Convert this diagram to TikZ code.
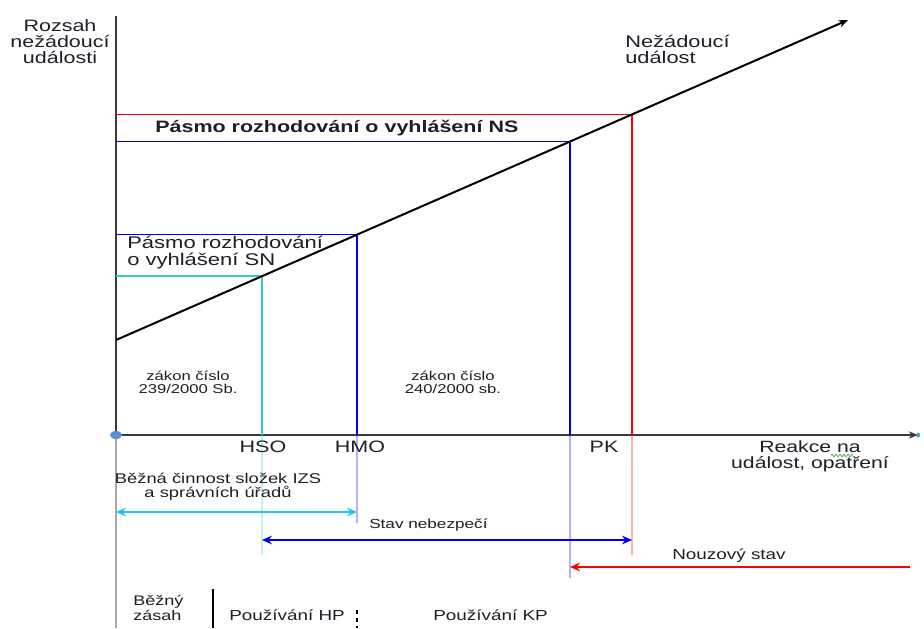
\documentclass[tikz,border=0pt]{standalone}
\usepackage{fontspec}
\setmainfont{Liberation Sans}[FakeStretch=1.3]
\usetikzlibrary{arrows.meta,calc,decorations.pathmorphing}

\definecolor{txt}{HTML}{1E1E28}
\definecolor{axisgray}{HTML}{3A3A3A}
\definecolor{lightaxis}{HTML}{A8A8A8}
\definecolor{nsred}{HTML}{FF0000}
\definecolor{nsblue}{HTML}{0000F0}
\definecolor{sncyan}{HTML}{3CC8C8}
\definecolor{arrcyan}{HTML}{1EC8F5}
\definecolor{dotblue}{HTML}{5B8ED8}
\definecolor{spellgreen}{HTML}{3CA03C}

\tikzset{
  lbl/.style={text=txt, inner sep=0pt, font=\fontsize{12.4}{12}\selectfont},
  smalllbl/.style={text=txt, inner sep=0pt, font=\fontsize{9.6}{9.75}\selectfont},
  midlbl/.style={text=txt, inner sep=0pt, font=\fontsize{10.6}{10.5}\selectfont},
  axisline/.style={draw=axisgray, line width=1.5pt},
  bandline/.style={line width=1.05pt},
  below axis/.style={opacity=0.45},
  tiphead/.style={-{Stealth[length=7pt,width=5.5pt]}},
  spanarrow/.style={line width=2.2pt, {Stealth[length=7.5pt,width=6.5pt]}-{Stealth[length=7.5pt,width=6.5pt]}},
  onearrow/.style={line width=2.2pt, {Stealth[length=7.5pt,width=6.5pt]}-},
}

\begin{document}
\begin{tikzpicture}[x=0.75pt,y=-0.75pt]
\useasboundingbox (0,0) rectangle (924,628);

% axes
\coordinate (O) at (116,435);
\coordinate (Ytop) at (116,16);
\coordinate (Ybot) at (116,628);
\coordinate (Xend) at (918,435);
\draw[draw=lightaxis, line width=1.5pt] (O) -- (Ybot);
\draw[axisline] (Ytop) -- (O);
\draw[axisline, tiphead] (O) -- (Xend);

% diagonal: extent of the undesired event
\coordinate (D0) at (116,340);
\coordinate (D1) at (848,20);
\coordinate (R)  at ($(D0)!0.7049!(D1)$);  % red corner, x = 632
\coordinate (Bn) at ($(D0)!0.6202!(D1)$);  % blue NS corner, x = 570
\coordinate (Bs) at ($(D0)!0.3292!(D1)$);  % blue SN corner, x = 357
\coordinate (C)  at ($(D0)!0.1995!(D1)$);  % cyan corner, x = 262

% lower ends of the vertical guides
\coordinate (Rend)  at (632,555);
\coordinate (Bnend) at (570,578);
\coordinate (Bsend) at (357,523);
\coordinate (Cend)  at (262,555);

% decision bands
\draw[bandline, nsred]  (O |- R)  -- (R)  -- (R |- O);
\draw[bandline, nsred, below axis] (R |- O) -- (Rend);
\draw[bandline, nsblue] (O |- Bn) -- (Bn) -- (Bn |- O);
\draw[bandline, nsblue, below axis] (Bn |- O) -- (Bnend);
\draw[bandline, nsblue] (O |- Bs) -- (Bs) -- (Bs |- O);
\draw[bandline, nsblue, below axis] (Bs |- O) -- (Bsend);
\draw[bandline, sncyan] (O |- C)  -- (C)  -- (C |- O);
\draw[bandline, sncyan, below axis] (C |- O) -- (Cend);

\draw[line width=1.5pt, black, tiphead] (D0) -- (D1);

% origin marker
\fill[dotblue] (O) ellipse [x radius=6, y radius=4];
\fill[dotblue] (Xend) ellipse [x radius=2, y radius=2.5];

% axis and band labels (multi-line nodes sit on their last baseline)
\node[lbl, anchor=base, align=center, font=\fontsize{12.4}{12}\selectfont] (ylab) at (60,63)
  {Rozsah\\ nežádoucí\\ události};
\node[lbl, anchor=base west, align=left, font=\fontsize{12.6}{12}\selectfont] (event) at (625,63)
  {Nežádoucí\\ událost};
\node[lbl, anchor=base west, font=\bfseries\fontsize{12.4}{12}\selectfont] (nsband) at (155,132)
  {Pásmo rozhodování o vyhlášení NS};
\node[lbl, anchor=base west, align=left, font=\fontsize{12.7}{12.6}\selectfont] (snband) at (127,265)
  {Pásmo rozhodování\\ o vyhlášení SN};
\node[smalllbl, anchor=base, align=center] (law239) at (188,393)
  {zákon číslo\\ 239/2000 Sb.};
\node[smalllbl, anchor=base, align=center] (law240) at (453,393)
  {zákon číslo\\ 240/2000 sb.};

% labels on the reaction axis
\node[lbl, anchor=base] (hso) at (263,452) {HSO};
\node[lbl, anchor=base] (hmo) at (360,452) {HMO};
\node[lbl, anchor=base] (pk)  at (604,452) {PK};
\node[lbl, anchor=base, align=center, font=\fontsize{12.2}{12}\selectfont] (xlab) at (810,468)
  {Reakce na\\ událost, opatření};
\draw[spellgreen, line width=0.5pt, decorate,
      decoration={zigzag, segment length=3, amplitude=1}] (831,455.5) -- (853,455.5);

% state spans
\coordinate (cyL) at (116,512);
\coordinate (cyR) at (357,512);
\coordinate (blL) at (262,540);
\coordinate (blR) at (632,540);
\coordinate (rdL) at (570,567);
\coordinate (rdR) at (910,567);
\node[midlbl, anchor=base, align=center] (routine) at (218,497)
  {Běžná činnost složek IZS\\ a správních úřadů};
\draw[spanarrow, arrcyan] (cyL) -- (cyR);
\node[midlbl, anchor=base west, font=\fontsize{9.9}{10}\selectfont] (danger) at (369,528) {Stav nebezpečí};
\draw[spanarrow, nsblue] (blL) -- (blR);
\node[midlbl, anchor=base west, font=\fontsize{10.9}{11}\selectfont] (emerg) at (672,559) {Nouzový stav};
\draw[onearrow, nsred] (rdL) -- (rdR);

% forces in use
\coordinate (sepT) at (213,589);
\coordinate (sepB) at (213,628);
\coordinate (dshT) at (357,610);
\coordinate (dshB) at (357,628);
\node[midlbl, anchor=base west, align=left, font=\fontsize{10.4}{11.25}\selectfont] (common) at (133,620)
  {Běžný\\ zásah};
\draw[black, line width=1.1pt] (sepT) -- (sepB);
\node[midlbl, anchor=base west, font=\fontsize{10.9}{11}\selectfont] (hp) at (229,620) {Používání HP};
\draw[black, line width=1pt, dash pattern=on 3 off 3] (dshT) -- (dshB);
\node[midlbl, anchor=base west, font=\fontsize{10.9}{11}\selectfont] (kp) at (433,620) {Používání KP};
\end{tikzpicture}
\end{document}
